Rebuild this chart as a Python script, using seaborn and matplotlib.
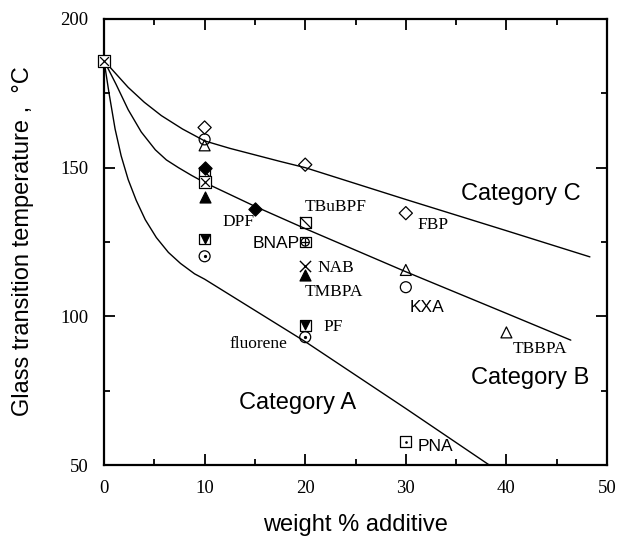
import matplotlib
matplotlib.use("Agg")
import matplotlib.pyplot as plt
from matplotlib.path import Path
from matplotlib.ticker import MultipleLocator
import seaborn as sns

# Curves (weight % additive, Tg in C)
cat_a_x = [0, 0.5, 1.1, 1.7, 2.4, 3.2, 4.1, 5.2, 6.4, 7.6, 9.0, 10.0, 20.0, 30.0, 38.3]
cat_a_y = [186, 175, 163, 154, 146, 139, 132.5, 126.5, 121.5, 117.8, 114.3, 112.5, 91.5, 69.0, 50]
cat_b_x = [0, 1.2, 2.4, 3.7, 5.1, 6.2, 7.4, 8.7, 10, 15, 20, 30, 40, 46.4]
cat_b_y = [186, 178, 169.5, 162, 156, 152.6, 150, 147.4, 145, 137, 129.5, 115, 101, 92]
cat_c_x = [0, 1.2, 2.4, 4.0, 5.7, 7.8, 10, 12.5, 15, 17.5, 20, 30, 40, 48.3]
cat_c_y = [186, 181.5, 177, 172, 167.5, 163, 159, 156.5, 154.3, 152.1, 150, 139.3, 128.8, 120]

# Measured points, grouped by marker type
open_diamond_x = [10, 20, 30]
open_diamond_y = [163.5, 151, 134.7]
open_circle_x = [10, 30]
open_circle_y = [159.5, 109.8]
open_triangle_x = [10, 30, 40]
open_triangle_y = [157.5, 115.6, 94.6]
filled_diamond_x = [10, 15]
filled_diamond_y = [150, 136]
filled_triangle_x = [10, 20]
filled_triangle_y = [140, 114]
boxed_x_x = [0, 10]
boxed_x_y = [186, 145.2]
cross_x = [20]
cross_y = [117]
pf_x = [10, 20]
pf_y = [126, 97]
fluorene_x = [10, 20]
fluorene_y = [120.2, 93]
slash_sq_x = [10, 20]
slash_sq_y = [148.5, 131.7]
bnap_x = [20]
bnap_y = [125]
pna_x = [30]
pna_y = [57.8]

# Point labels
label_names = ["DPF", "TBuBPF", "BNAP", "NAB", "TMBPA", "PF", "fluorene",
               "FBP", "KXA", "TBBPA", "PNA"]
label_x = [13.4, 23.0, 17.15, 23.0, 22.8, 22.8, 15.3, 32.7, 32.1, 43.3, 32.95]
label_y = [131.7, 136.8, 124.4, 116.3, 108.1, 96.5, 90.7, 130.6, 103, 89, 56.4]
label_serif = [True, True, False, True, True, True, True, True, False, True, False]

cat_names = ["Category A", "Category B", "Category C"]
cat_label_x = [19.2, 42.4, 41.4]
cat_label_y = [70.9, 79.4, 141.3]

sns.set_theme(style="ticks")
plt.rcParams["font.family"] = ["Liberation Sans", "DejaVu Sans"]
plt.rcParams["text.color"] = "black"
plt.rcParams["axes.labelcolor"] = "black"
SERIF = ["Liberation Serif", "DejaVu Serif"]

fig = plt.figure(figsize=(6.17, 5.42), dpi=100)
ax = fig.add_axes([0.1686, 0.142, 0.8152, 0.823])

for cx, cy in [(cat_a_x, cat_a_y), (cat_b_x, cat_b_y), (cat_c_x, cat_c_y)]:
    sns.lineplot(x=cx, y=cy, sort=False, estimator=None, color="black",
                 linewidth=1.0, ax=ax)

S = 62
openk = dict(color="none", edgecolor="black", linewidth=0.9, ax=ax, zorder=3)
filk = dict(color="black", edgecolor="black", linewidth=0.9, ax=ax, zorder=3)
slash = Path([(-0.5, 0.5), (0.5, -0.5)], [Path.MOVETO, Path.LINETO])

sns.scatterplot(x=open_diamond_x, y=open_diamond_y, marker="D", s=45, **openk)
sns.scatterplot(x=open_circle_x, y=open_circle_y, marker="o", s=S, **openk)
sns.scatterplot(x=open_triangle_x, y=open_triangle_y, marker="^", s=S, **openk)
sns.scatterplot(x=filled_diamond_x, y=filled_diamond_y, marker="D", s=45, **filk)
sns.scatterplot(x=filled_triangle_x, y=filled_triangle_y, marker="^", s=S, **filk)
# boxed X (the one at 0 sits on the spine, so no clipping)
sns.scatterplot(x=boxed_x_x, y=boxed_x_y, marker="s", s=75, clip_on=False,
                color="white", edgecolor="black", linewidth=0.9, ax=ax, zorder=4)
sns.scatterplot(x=boxed_x_x, y=boxed_x_y, marker="x", s=40, color="black",
                linewidth=0.9, ax=ax, zorder=5, clip_on=False)
sns.scatterplot(x=cross_x, y=cross_y, marker="x", s=65, color="black",
                linewidth=1.0, ax=ax, zorder=3)
# square with filled down triangle
sns.scatterplot(x=pf_x, y=pf_y, marker="s", s=S, **openk)
sns.scatterplot(x=pf_x, y=pf_y, marker="v", s=38, **filk)
# dotted circle
sns.scatterplot(x=fluorene_x, y=fluorene_y, marker="o", s=S, **openk)
sns.scatterplot(x=fluorene_x, y=fluorene_y, marker="o", s=2, **filk)
# square with diagonal
sns.scatterplot(x=slash_sq_x, y=slash_sq_y, marker="s", s=S, **openk)
sns.scatterplot(x=slash_sq_x, y=slash_sq_y, marker=slash, s=S, **filk)
# square with circled plus
sns.scatterplot(x=bnap_x, y=bnap_y, marker="s", s=S, **openk)
sns.scatterplot(x=bnap_x, y=bnap_y, marker="o", s=34, **openk)
sns.scatterplot(x=bnap_x, y=bnap_y, marker="+", s=34, color="black",
                linewidth=0.9, ax=ax, zorder=3)
# square with dot
sns.scatterplot(x=pna_x, y=pna_y, marker="s", s=S, **openk)
sns.scatterplot(x=pna_x, y=pna_y, marker="o", s=1, **filk)

for name, lx, ly, serif in zip(label_names, label_x, label_y, label_serif):
    ax.text(lx, ly, name, ha="center", va="center", fontsize=12.5, color="black",
            family=SERIF if serif else ["Liberation Sans", "DejaVu Sans"])

for name, lx, ly in zip(cat_names, cat_label_x, cat_label_y):
    ax.text(lx, ly, name, ha="center", va="center", fontsize=17, color="black")

ax.set_xlim(0, 50)
ax.set_ylim(50, 200)
ax.xaxis.set_major_locator(MultipleLocator(10))
ax.xaxis.set_minor_locator(MultipleLocator(5))
ax.yaxis.set_major_locator(MultipleLocator(50))
ax.yaxis.set_minor_locator(MultipleLocator(25))
ax.tick_params(which="both", direction="in", top=True, right=True,
               width=1.3, colors="black", pad=11)
ax.tick_params(which="major", length=8)
ax.tick_params(which="minor", length=4)
for lab in ax.get_xticklabels() + ax.get_yticklabels():
    lab.set_family(SERIF)
    lab.set_fontsize(13.5)
for sp in ax.spines.values():
    sp.set_linewidth(1.6)
    sp.set_color("black")

ax.set_xlabel("weight % additive", fontsize=17, va="center")
ax.set_ylabel("Glass transition temperature ,  °C", fontsize=17, va="center")
ax.xaxis.set_label_coords(0.5, -0.1345)
ax.yaxis.set_label_coords(-0.161, 0.502)

fig.savefig("out.png", dpi=100)
